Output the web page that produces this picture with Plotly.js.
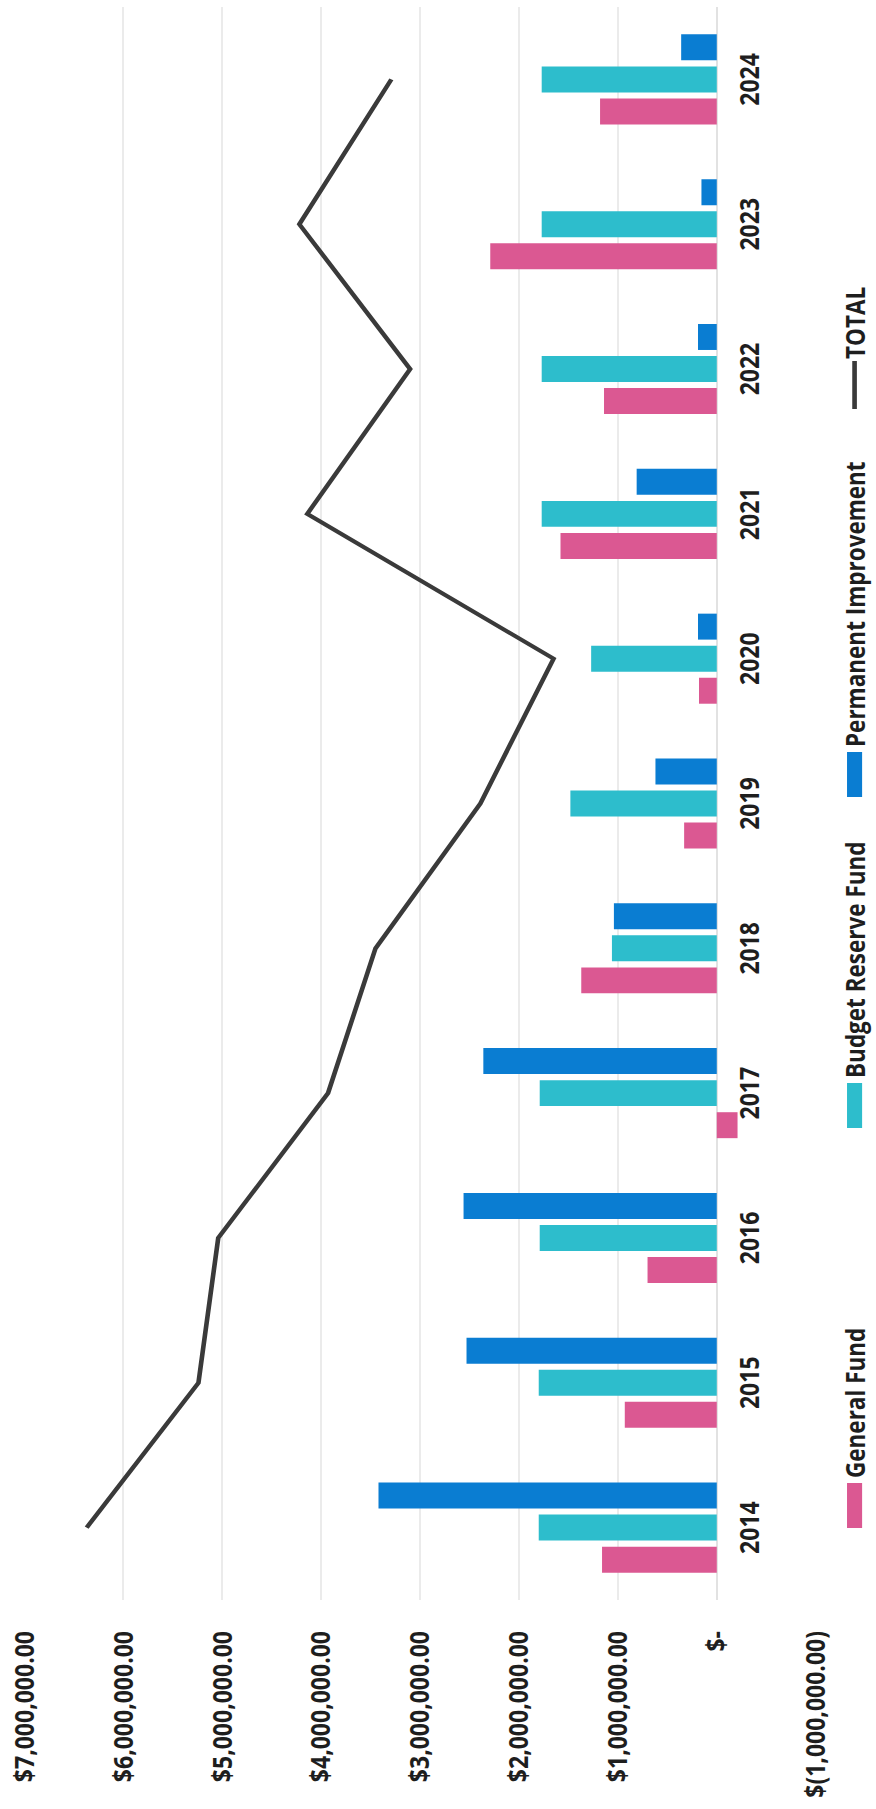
<!DOCTYPE html>
<html>
<head>
<meta charset="utf-8">
<script src="https://cdn.plot.ly/plotly-3.0.1.min.js"></script>
<style>
  html, body { margin: 0; padding: 0; overflow: hidden; background: #ffffff; width: 876px; height: 1809px; }
  #wrap { position: absolute; left: 0; top: 0; width: 1809px; height: 755px;
          transform-origin: 0 0; transform: translateY(1809px) rotate(-90deg) scaleY(1.1603); }
  #chart { width: 1809px; height: 755px; }
</style>
</head>
<body>
<div id="wrap"><div id="chart"></div></div>
<script>
// ---- data ----
const years = ["2014","2015","2016","2017","2018","2019","2020","2021","2022","2023","2024"];
const generalFund       = [1160000, 930000, 700000, -210000, 1370000, 330000, 180000, 1580000, 1140000, 2290000, 1180000];
const budgetReserveFund = [1800000, 1800000, 1790000, 1790000, 1060000, 1480000, 1270000, 1770000, 1770000, 1770000, 1770000];
const permanentImprove  = [3420000, 2530000, 2560000, 2360000, 1040000, 620000, 190000, 810000, 190000, 155000, 360000];
const total             = [6370000, 5240000, 5040000, 3930000, 3450000, 2390000, 1650000, 4140000, 3100000, 4220000, 3290000];
const valueTicks     = [7000000, 6000000, 5000000, 4000000, 3000000, 2000000, 1000000, 0, -1000000];
const valueTickText  = ["$7,000,000.00","$6,000,000.00","$5,000,000.00","$4,000,000.00","$3,000,000.00",
                        "$2,000,000.00","$1,000,000.00","$-","$(1,000,000.00)"];
const seriesNames = ["General Fund","Budget Reserve Fund","Permanent Improvement","TOTAL"];

const FONT = "'Open Sans', 'Noto Sans', 'Liberation Sans', sans-serif";
const TICK = { family: FONT, size: 23, color: "#1e1e1e", weight: 700 };
const LEG  = { family: FONT, size: 22.5, color: "#1e1e1e", weight: 700 };

const traces = [
  { type: "bar", name: seriesNames[0], x: years, y: generalFund, marker: { color: "#DB5892" }, legend: "legend" },
  { type: "bar", name: seriesNames[1], x: years, y: budgetReserveFund, marker: { color: "#2DBDCC" }, legend: "legend2" },
  { type: "bar", name: seriesNames[2], x: years, y: permanentImprove, marker: { color: "#0A7DD2" }, legend: "legend3" },
  { type: "scatter", mode: "lines", name: seriesNames[3], x: years, y: total,
    line: { color: "#3a3a3a", width: 4 }, legend: "legend4" }
];

function legendAt(uStart) {
  return {
    orientation: "h", xref: "container", yref: "container",
    x: (uStart - 5) / 1809, xanchor: "left", y: 0.024, yanchor: "middle",
    itemwidth: 45, font: LEG, bgcolor: "rgba(0,0,0,0)", borderwidth: 0
  };
}

const layout = {
  width: 1809, height: 755,
  margin: { l: 209, r: 7, t: 21, b: 52, autoexpand: false },
  paper_bgcolor: "#ffffff", plot_bgcolor: "#ffffff",
  font: TICK,
  barmode: "group",
  bargap: 0.336,
  bargroupgap: 0.19,
  showlegend: true,
  legend: legendAt(281),
  legend2: legendAt(681),
  legend3: legendAt(1012),
  legend4: legendAt(1400),
  xaxis: {
    type: "category", automargin: false,
    anchor: "free", position: 0.125,
    showline: false, showgrid: false, zeroline: false,
    ticks: "", ticklabelstandoff: 12,
    tickfont: TICK, tickangle: 0
  },
  yaxis: {
    range: [-1000000, 7000000], automargin: false,
    tickvals: valueTicks, ticktext: valueTickText,
    showgrid: true, gridcolor: "#ebebeb", gridwidth: 1.5,
    zeroline: true, zerolinecolor: "#e2e2e2", zerolinewidth: 1.5,
    showline: false, ticks: "",
    ticklabelstandoff: 30,
    tickfont: TICK
  }
};

Plotly.newPlot("chart", traces, layout, { staticPlot: true, displayModeBar: false }).then(function () {
  // flat rectangular swatches for the bar series, longer line for TOTAL, as in the reference
  document.querySelectorAll("#chart .legendpoints path.legendundefined, #chart .legendpoints path.legendbar")
    .forEach(function (p) { p.setAttribute("d", "M-22.5,6.5H22.5V-6.5H-22.5Z"); });
  document.querySelectorAll("#chart .legendlines path")
    .forEach(function (p) { p.setAttribute("d", "M5,0h48"); });
});
</script>
</body>
</html>
